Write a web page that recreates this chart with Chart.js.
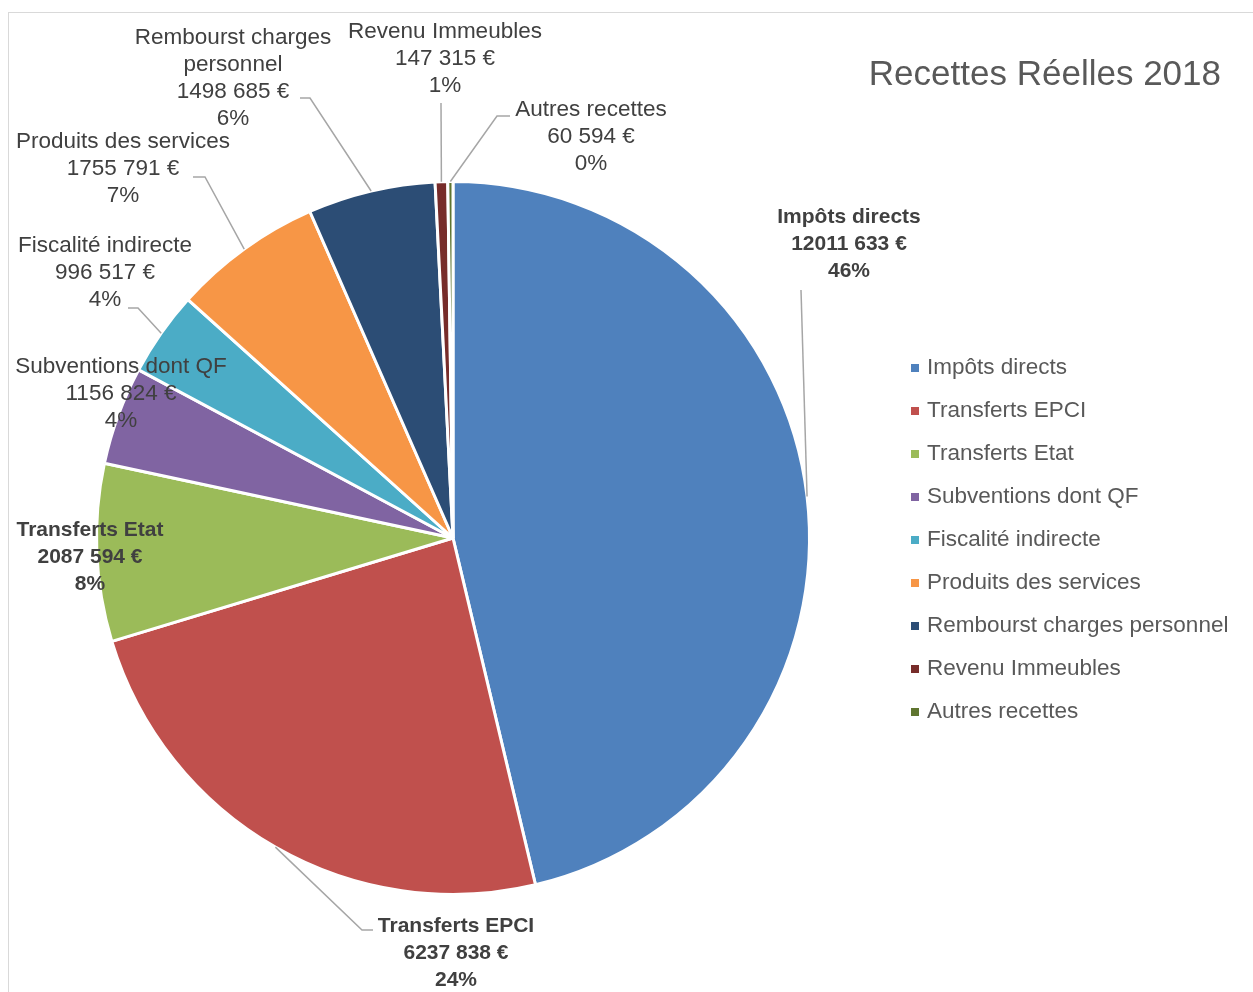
<!DOCTYPE html>
<html>
<head>
<meta charset="utf-8">
<script src="https://cdn.jsdelivr.net/npm/chart.js@4.4.0/dist/chart.umd.min.js"></script>
<style>
    html, body { margin: 0; padding: 0; background: #ffffff; }
    #wrap { width: 1253px; height: 992px; position: relative; }
</style>
</head>
<body>
<div id="wrap"><canvas id="recettesChart" width="1253" height="992"></canvas></div>
<script>
// --- Données ---
const categories = ['Impôts directs', 'Transferts EPCI', 'Transferts Etat', 'Subventions dont QF',
    'Fiscalité indirecte', 'Produits des services', 'Rembourst charges personnel',
    'Revenu Immeubles', 'Autres recettes'];
const montants = [12011633, 6237838, 2087594, 1156824, 996517, 1755791, 1498685, 147315, 60594];
const couleurs = ['#4F81BD', '#C0504D', '#9BBB59', '#8064A2', '#4BACC6', '#F79646', '#2C4D75', '#772C2A', '#5F7530'];
const titre = 'Recettes Réelles 2018';

// --- Placement des étiquettes (centre de la 1ère ligne + coude du trait de rappel) ---
const etiquettes = [
    { x: 849, y: 217, bold: true, lead: [[801, 290]] },
    { x: 456, y: 926, bold: true, lead: [[362, 930], [373, 930]] },
    { x: 90, y: 530, bold: true, lead: null },
    { x: 121, y: 367, bold: false, lead: null },
    { x: 105, y: 246, bold: false, lead: [[138, 308], [128, 308]] },
    { x: 123, y: 142, bold: false, lead: [[205, 177], [193, 177]] },
    { x: 233, y: 38, bold: false, lead: [[310, 98], [300, 98]] },
    { x: 445, y: 32, bold: false, lead: [[441, 103]] },
    { x: 591, y: 110, bold: false, lead: [[497, 116], [510, 116]] }
];

const FONT = "'Liberation Sans', Arial, sans-serif";
const total = montants.reduce((a, b) => a + b, 0);

function formatEuro(v) {
    const milliers = Math.floor(v / 1000);
    const reste = String(v % 1000).padStart(3, '0');
    return (milliers > 0 ? milliers + ' ' + reste : String(v % 1000)) + ' €';
}

function wrapText(ctx, text, maxWidth) {
    const words = text.split(' ');
    const lines = [];
    let cur = '';
    words.forEach(w => {
        const test = cur ? cur + ' ' + w : w;
        if (ctx.measureText(test).width > maxWidth && cur) {
            lines.push(cur);
            cur = w;
        } else {
            cur = test;
        }
    });
    if (cur) lines.push(cur);
    return lines;
}

// Cadre + titre + légende + étiquettes
const decorPlugin = {
    id: 'decor',
    beforeDraw(chart) {
        const ctx = chart.ctx;
        ctx.save();
        ctx.fillStyle = '#ffffff';
        ctx.fillRect(0, 0, chart.width, chart.height);
        ctx.strokeStyle = '#d9d9d9';
        ctx.lineWidth = 1;
        ctx.strokeRect(8.5, 12.5, chart.width + 20, chart.height + 20);
        ctx.restore();
    },
    afterDatasetsDraw(chart) {
        const ctx = chart.ctx;
        const meta = chart.getDatasetMeta(0);
        ctx.save();

        // Traits de rappel
        ctx.strokeStyle = '#a6a6a6';
        ctx.lineWidth = 1.5;
        meta.data.forEach((arc, i) => {
            const lab = etiquettes[i];
            if (!lab.lead) return;
            const p = arc.getProps(['x', 'y', 'startAngle', 'endAngle', 'outerRadius'], true);
            const mid = (p.startAngle + p.endAngle) / 2;
            const ax = p.x + Math.cos(mid) * p.outerRadius;
            const ay = p.y + Math.sin(mid) * p.outerRadius;
            ctx.beginPath();
            ctx.moveTo(ax, ay);
            lab.lead.forEach(pt => ctx.lineTo(pt[0], pt[1]));
            ctx.stroke();
        });

        // Textes des étiquettes
        ctx.textAlign = 'center';
        ctx.textBaseline = 'middle';
        meta.data.forEach((arc, i) => {
            const lab = etiquettes[i];
            ctx.font = lab.bold ? 'bold 21px ' + FONT : '22.5px ' + FONT;
            ctx.fillStyle = '#404040';
            const pct = Math.round(montants[i] / total * 100) + '%';
            const lines = wrapText(ctx, categories[i], 250).concat([formatEuro(montants[i]), pct]);
            lines.forEach((t, k) => ctx.fillText(t, lab.x, lab.y + k * 27));
        });

        // Titre
        ctx.font = '35px ' + FONT;
        ctx.fillStyle = '#595959';
        ctx.textAlign = 'right';
        ctx.fillText(titre, 1221, 75);

        // Légende
        ctx.font = '22.5px ' + FONT;
        ctx.textAlign = 'left';
        categories.forEach((c, i) => {
            const y = 368 + i * 43;
            ctx.fillStyle = couleurs[i];
            ctx.fillRect(911, y - 4, 8, 8);
            ctx.fillStyle = '#595959';
            ctx.fillText(c, 927, y);
        });
        ctx.restore();
    }
};

new Chart(document.getElementById('recettesChart'), {
    type: 'pie',
    data: {
        labels: categories,
        datasets: [{
            data: montants,
            backgroundColor: couleurs,
            borderColor: '#ffffff',
            borderWidth: 3,
            hoverOffset: 0
        }]
    },
    options: {
        responsive: false,
        animation: false,
        devicePixelRatio: 1,
        layout: { padding: { left: 95, right: 442, top: 180, bottom: 96 } },
        plugins: {
            legend: { display: false },
            title: { display: false },
            tooltip: { enabled: false }
        }
    },
    plugins: [decorPlugin]
});
</script>
</body>
</html>
